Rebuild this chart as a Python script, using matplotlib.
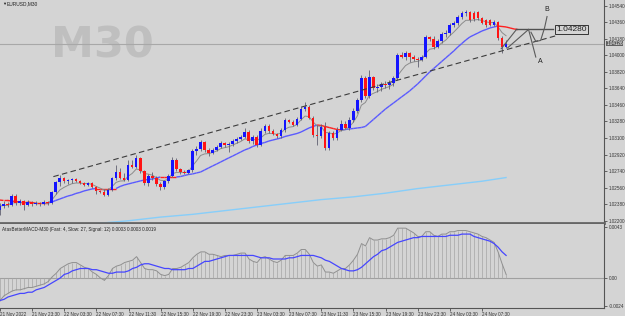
import numpy as np
import pandas as pd
from matplotlib import pyplot as plt

plt.rcParams['font.family'] = ['Liberation Sans', 'DejaVu Sans']

# EURUSD M30, 21 Nov 19:30 .. 24 Nov 11:30 (one entry per bar)
opens = [1.0232, 1.0236, 1.0238, 1.0237, 1.0247, 1.0239, 1.0242, 1.0237, 1.0240, 1.0238,
         1.0239, 1.0238, 1.0240, 1.0239, 1.0251, 1.0262, 1.0267, 1.0263, 1.0264, 1.0265,
         1.0263, 1.0261, 1.0259, 1.0261, 1.0257, 1.0252, 1.0251, 1.0248, 1.0253, 1.0267,
         1.0273, 1.0267, 1.0264, 1.0281, 1.0279, 1.0288, 1.0274, 1.0261, 1.0269, 1.0267,
         1.0260, 1.0257, 1.0263, 1.0269, 1.0286, 1.0276, 1.0273, 1.0272, 1.0275, 1.0296,
         1.0298, 1.0306, 1.0297, 1.0294, 1.0297, 1.0300, 1.0305, 1.0302, 1.0303, 1.0307,
         1.0309, 1.0311, 1.0316, 1.0307, 1.0311, 1.0302, 1.0318, 1.0323, 1.0318, 1.0314,
         1.0312, 1.0319, 1.0330, 1.0327, 1.0324, 1.0331, 1.0342, 1.0344, 1.0332, 1.0313,
         1.0312, 1.0322, 1.0299, 1.0315, 1.0310, 1.0319, 1.0325, 1.0321, 1.0330, 1.0339,
         1.0351, 1.0375, 1.0356, 1.0376, 1.0364, 1.0365, 1.0369, 1.0368, 1.0370, 1.0375,
         1.0400, 1.0398, 1.0402, 1.0398, 1.0396, 1.0395, 1.0398, 1.0420, 1.0418, 1.0409,
         1.0415, 1.0423, 1.0424, 1.0433, 1.0435, 1.0441, 1.0446, 1.0447, 1.0446, 1.0447,
         1.0440, 1.0438, 1.0438, 1.0433, 1.0436, 1.0419, 1.0409]
closes = [1.0236, 1.0238, 1.0237, 1.0247, 1.0239, 1.0242, 1.0237, 1.0240, 1.0238, 1.0239,
          1.0238, 1.0240, 1.0239, 1.0251, 1.0262, 1.0267, 1.0263, 1.0264, 1.0265, 1.0263,
          1.0261, 1.0259, 1.0261, 1.0257, 1.0252, 1.0251, 1.0248, 1.0253, 1.0267, 1.0273,
          1.0267, 1.0264, 1.0281, 1.0279, 1.0288, 1.0274, 1.0261, 1.0269, 1.0267, 1.0260,
          1.0257, 1.0263, 1.0269, 1.0286, 1.0276, 1.0273, 1.0272, 1.0275, 1.0296, 1.0298,
          1.0306, 1.0297, 1.0294, 1.0297, 1.0300, 1.0305, 1.0302, 1.0303, 1.0307, 1.0309,
          1.0311, 1.0316, 1.0307, 1.0311, 1.0302, 1.0318, 1.0323, 1.0318, 1.0314, 1.0312,
          1.0319, 1.0330, 1.0327, 1.0324, 1.0331, 1.0342, 1.0344, 1.0332, 1.0313, 1.0312,
          1.0322, 1.0299, 1.0315, 1.0310, 1.0319, 1.0325, 1.0321, 1.0330, 1.0339, 1.0351,
          1.0375, 1.0356, 1.0376, 1.0364, 1.0365, 1.0369, 1.0368, 1.0370, 1.0375, 1.0400,
          1.0398, 1.0402, 1.0398, 1.0396, 1.0395, 1.0398, 1.0420, 1.0418, 1.0409, 1.0415,
          1.0423, 1.0424, 1.0433, 1.0435, 1.0441, 1.0446, 1.0447, 1.0438, 1.0439, 1.0440,
          1.0435, 1.0433, 1.0433, 1.0436, 1.0419, 1.0409, 1.04126]
highs = [1.0239, 1.0242, 1.0240, 1.0249, 1.0249, 1.0244, 1.0243, 1.0243, 1.0242, 1.0242,
         1.0240, 1.0243, 1.0242, 1.0252, 1.0263, 1.0270, 1.0268, 1.0265, 1.0267, 1.0267,
         1.0264, 1.0262, 1.0262, 1.0262, 1.0258, 1.0253, 1.0255, 1.0256, 1.0268, 1.0281,
         1.0277, 1.0272, 1.0286, 1.0286, 1.0292, 1.0289, 1.0275, 1.0271, 1.0273, 1.0269,
         1.0262, 1.0264, 1.0271, 1.0289, 1.0288, 1.0277, 1.0275, 1.0276, 1.0298, 1.0301,
         1.0308, 1.0307, 1.0299, 1.0299, 1.0302, 1.0307, 1.0306, 1.0306, 1.0309, 1.0311,
         1.0313, 1.0321, 1.0319, 1.0313, 1.0313, 1.0321, 1.0325, 1.0325, 1.0320, 1.0315,
         1.0321, 1.0332, 1.0331, 1.0330, 1.0333, 1.0345, 1.0349, 1.0346, 1.0334, 1.0324,
         1.0325, 1.0327, 1.0318, 1.0318, 1.0322, 1.0330, 1.0328, 1.0333, 1.0343, 1.0353,
         1.0378, 1.0377, 1.0384, 1.0377, 1.0369, 1.0371, 1.0372, 1.0373, 1.0377, 1.0402,
         1.0403, 1.0405, 1.0403, 1.0400, 1.0398, 1.0400, 1.0422, 1.0421, 1.0421, 1.0418,
         1.0425, 1.0427, 1.0435, 1.0437, 1.0444, 1.0448, 1.0449, 1.0448, 1.0448, 1.0448,
         1.0441, 1.0439, 1.0439, 1.0438, 1.0437, 1.0421, 1.0417]
lows = [1.0226, 1.0234, 1.0235, 1.0236, 1.0237, 1.0237, 1.0232, 1.0236, 1.0236, 1.0237,
        1.0236, 1.0237, 1.0237, 1.0238, 1.0249, 1.0258, 1.0261, 1.0260, 1.0261, 1.0262,
        1.0260, 1.0258, 1.0258, 1.0256, 1.0249, 1.0250, 1.0247, 1.0247, 1.0252, 1.0264,
        1.0265, 1.0263, 1.0263, 1.0277, 1.0277, 1.0272, 1.0259, 1.0258, 1.0264, 1.0258,
        1.0253, 1.0255, 1.0261, 1.0268, 1.0274, 1.0271, 1.0271, 1.0271, 1.0273, 1.0292,
        1.0296, 1.0295, 1.0290, 1.0293, 1.0296, 1.0299, 1.0300, 1.0295, 1.0301, 1.0305,
        1.0308, 1.0310, 1.0305, 1.0303, 1.0300, 1.0301, 1.0315, 1.0315, 1.0313, 1.0310,
        1.0310, 1.0316, 1.0326, 1.0323, 1.0323, 1.0330, 1.0339, 1.0331, 1.0311, 1.0302,
        1.0310, 1.0297, 1.0297, 1.0308, 1.0308, 1.0318, 1.0320, 1.0319, 1.0327, 1.0337,
        1.0349, 1.0353, 1.0353, 1.0362, 1.0360, 1.0361, 1.0364, 1.0363, 1.0367, 1.0373,
        1.0397, 1.0395, 1.0393, 1.0394, 1.0387, 1.0394, 1.0397, 1.0415, 1.0407, 1.0408,
        1.0413, 1.0420, 1.0422, 1.0431, 1.0433, 1.0439, 1.0443, 1.0436, 1.0437, 1.0438,
        1.0434, 1.0431, 1.0432, 1.0432, 1.0417, 1.0402, 1.0408]

# coloured moving average (drawn 3 bars past the last candle)
ma_slow = [1.02426, 1.02421, 1.02421, 1.02415, 1.02410, 1.02404, 1.02404, 1.02404, 1.02399, 1.02393,
           1.02393, 1.02393, 1.02393, 1.02404, 1.02421, 1.02437, 1.02453, 1.02469, 1.02480, 1.02497,
           1.02508, 1.02524, 1.02535, 1.02546, 1.02551, 1.02551, 1.02551, 1.02551, 1.02551, 1.02551,
           1.02573, 1.02589, 1.02600, 1.02611, 1.02622, 1.02633, 1.02643, 1.02649, 1.02654, 1.02665,
           1.02676, 1.02676, 1.02676, 1.02676, 1.02676, 1.02681, 1.02692, 1.02703, 1.02709, 1.02720,
           1.02730, 1.02752, 1.02774, 1.02796, 1.02817, 1.02839, 1.02861, 1.02883, 1.02904, 1.02926,
           1.02948, 1.02970, 1.02986, 1.03008, 1.03024, 1.03040, 1.03051, 1.03067, 1.03078, 1.03089,
           1.03100, 1.03116, 1.03127, 1.03138, 1.03149, 1.03165, 1.03187, 1.03209, 1.03225, 1.03241,
           1.03236, 1.03225, 1.03214, 1.03203, 1.03192, 1.03187, 1.03192, 1.03198, 1.03203, 1.03209,
           1.03214, 1.03225, 1.03263, 1.03301, 1.03339, 1.03377, 1.03415, 1.03448, 1.03480, 1.03513,
           1.03546, 1.03578, 1.03611, 1.03649, 1.03687, 1.03730, 1.03774, 1.03817, 1.03855, 1.03893,
           1.03932, 1.03970, 1.04008, 1.04046, 1.04089, 1.04127, 1.04165, 1.04198, 1.04220, 1.04241,
           1.04263, 1.04279, 1.04296, 1.04307, 1.04317, 1.04312, 1.04307, 1.04296, 1.04285, 1.04279]

# long moving average, read every 8 bars
ma_long_bar = [24, 32, 40, 48, 56, 64, 72, 80, 88, 96, 104, 112, 120, 126]
ma_long = [1.0217, 1.0220, 1.0224, 1.0227, 1.0231, 1.0235, 1.0239, 1.0243, 1.0246, 1.0250,
           1.0255, 1.0259, 1.0263, 1.0267]

macd_main = [-0.0019, -0.0015, -0.0013, -0.0011, -0.0010, -0.0010, -0.0009, -0.0008, -0.0008, -0.0007,
             -0.0006, -0.0005, -0.0003, 0.0001, 0.0004, 0.0008, 0.0010, 0.0012, 0.0013, 0.0013,
             0.0011, 0.0009, 0.0008, 0.0005, 0.0003, 0.0000, -0.0002, 0.0002, 0.0008, 0.0010,
             0.0011, 0.0013, 0.0014, 0.0015, 0.0018, 0.0013, 0.0008, 0.0007, 0.0007, 0.0006,
             0.0003, 0.0002, 0.0003, 0.0008, 0.0008, 0.0009, 0.0011, 0.0013, 0.0017, 0.0020,
             0.0022, 0.0022, 0.0020, 0.0020, 0.0019, 0.0018, 0.0019, 0.0019, 0.0019, 0.0020,
             0.0021, 0.0021, 0.0016, 0.0014, 0.0013, 0.0017, 0.0018, 0.0016, 0.0014, 0.0013,
             0.0015, 0.0019, 0.0019, 0.0019, 0.0021, 0.0024, 0.0024, 0.0020, 0.0013, 0.0010,
             0.0011, 0.0005, 0.0005, 0.0004, 0.0006, 0.0008, 0.0008, 0.0011, 0.0015, 0.0020,
             0.0029, 0.0027, 0.0034, 0.0032, 0.0032, 0.0033, 0.0033, 0.0034, 0.0036, 0.0042,
             0.0042, 0.0042, 0.0040, 0.0038, 0.0035, 0.0035, 0.0039, 0.0039, 0.0036, 0.0035,
             0.0037, 0.0037, 0.0039, 0.0039, 0.0040, 0.0040, 0.0040, 0.0039, 0.0038, 0.0037,
             0.0035, 0.0034, 0.0032, 0.0030, 0.0022, 0.0012, 0.0003]
macd_signal = [-0.0019, -0.0018, -0.0016, -0.0015, -0.0014, -0.0013, -0.0013, -0.0012, -0.0012, -0.0010,
               -0.0009, -0.0008, -0.0006, -0.0004, -0.0002, 0.0000, 0.0003, 0.0004, 0.0006, 0.0007,
               0.0008, 0.0008, 0.0008, 0.0007, 0.0007, 0.0006, 0.0005, 0.0004, 0.0004, 0.0005,
               0.0005, 0.0005, 0.0006, 0.0008, 0.0009, 0.0011, 0.0012, 0.0012, 0.0011, 0.0010,
               0.0009, 0.0008, 0.0008, 0.0007, 0.0007, 0.0007, 0.0007, 0.0008, 0.0008, 0.0010,
               0.0012, 0.0014, 0.0014, 0.0015, 0.0016, 0.0017, 0.0018, 0.0019, 0.0019, 0.0019,
               0.0019, 0.0019, 0.0019, 0.0019, 0.0018, 0.0017, 0.0017, 0.0017, 0.0016, 0.0016,
               0.0016, 0.0016, 0.0017, 0.0017, 0.0018, 0.0019, 0.0019, 0.0019, 0.0019, 0.0018,
               0.0017, 0.0015, 0.0014, 0.0012, 0.0010, 0.0008, 0.0007, 0.0006, 0.0006, 0.0007,
               0.0009, 0.0012, 0.0015, 0.0018, 0.0020, 0.0023, 0.0024, 0.0026, 0.0028, 0.0030,
               0.0031, 0.0032, 0.0033, 0.0034, 0.0034, 0.0035, 0.0035, 0.0035, 0.0035, 0.0035,
               0.0035, 0.0035, 0.0036, 0.0036, 0.0036, 0.0037, 0.0037, 0.0037, 0.0035, 0.0034,
               0.0033, 0.0032, 0.0031, 0.0029, 0.0026, 0.0022, 0.0019]

price_ticks = [1.04540, 1.04360, 1.04180, 1.04000, 1.03820, 1.03640, 1.03460, 1.03280,
               1.03100, 1.02920, 1.02740, 1.02560, 1.02380, 1.02200]
time_ticks = [0, 8, 16, 24, 32, 40, 48, 56, 64, 72, 80, 88, 96, 104, 112, 120]
time_labels = ['21 Nov 2022', '21 Nov 23:30', '22 Nov 03:30', '22 Nov 07:30', '22 Nov 11:30',
               '22 Nov 15:30', '22 Nov 19:30', '22 Nov 23:30', '23 Nov 03:30', '23 Nov 07:30',
               '23 Nov 11:30', '23 Nov 15:30', '23 Nov 19:30', '23 Nov 23:30', '24 Nov 03:30',
               '24 Nov 07:30']

# trend line and the hand drawn projection
trend_bar = [13.4, 138.3]
trend_price = [1.0268, 1.0421]
target_price = 1.04280

BG = '#d4d4d4'
BLUE = '#1414ff'
RED = '#ff1414'
FS = 3.3

o, h, l, c = map(np.array, (opens, highs, lows, closes))
n = len(c)
bars = np.arange(n)

fig = plt.figure(figsize=(6.25, 3.16), dpi=100, facecolor=BG)
ax = fig.add_axes([0, 93 / 316, 604 / 625, 223 / 316], facecolor=BG)
ax2 = fig.add_axes([0, 8 / 316, 604 / 625, 84 / 316], facecolor=BG)
xlim = (0.124, 150.37)

# watermark
ax.text(0.085, 0.795, 'M30', transform=ax.transAxes, fontsize=31, fontweight='bold',
        family='DejaVu Sans', color='#bfbfbf', ha='left', va='center', zorder=0)

# current price line
ax.axhline(c[-1], color='#a8a8a8', lw=0.8, zorder=1)

# long MA
ax.plot(ma_long_bar, ma_long, color='#87cefa', lw=1.0, zorder=2)

# coloured MA
ms = np.array(ma_slow)
mx = np.arange(len(ms))
for i in range(len(ms) - 1):
    col = '#5a5aff' if ms[i + 1] > ms[i] else '#ff2020'
    ax.plot(mx[i:i + 2], ms[i:i + 2], color=col, lw=1.0, zorder=3, solid_capstyle='butt')

# fast grey MA
fast = pd.Series(c).ewm(span=6, adjust=False).mean()
ax.plot(bars, fast, color='#8c8c8c', lw=0.7, zorder=3)

# candles
up = c >= o
ax.vlines(bars, l, h, color='#606070', lw=0.6, zorder=4)
ax.bar(bars[up], (c - o)[up], bottom=o[up], width=0.65, color=BLUE, zorder=5)
ax.bar(bars[~up], (o - c)[~up], bottom=c[~up], width=0.65, color=RED, zorder=5)

# trend line
ax.plot(trend_bar, trend_price, color='#3c3c3c', lw=0.8, dashes=(5, 3), zorder=6)

# projection drawing
g = '#5a5a5a'
ax.plot([124.8, 128.6], [1.0407, target_price], color=g, lw=0.8, zorder=6)
ax.plot([126.4, 131.6], [1.0408, target_price], color=g, lw=0.8, zorder=6)
ax.plot([128.6, 137.8], [target_price, target_price], color='#505050', lw=1.0, zorder=6)
ax.plot([131.6, 133.4], [target_price, 1.0398], color=g, lw=0.8, zorder=6)
ax.plot([132.2, 133.4, 134.6, 135.6, 136.2], [1.0425, 1.0415, 1.0416, 1.0430, 1.0442],
        color=g, lw=0.8, zorder=6)
ax.text(134.6, 1.03930, 'A', fontsize=5, color='#222222', ha='center', va='center')
ax.text(136.2, 1.04500, 'B', fontsize=5, color='#222222', ha='center', va='center')
ax.text(138.4, target_price, f'{target_price:.5f}', fontsize=6, color='#222222',
        ha='left', va='center', zorder=7,
        bbox=dict(boxstyle='square,pad=0.15', fc=BG, ec='#333333', lw=0.7))

ax.set_xlim(*xlim)
ax.set_ylim(1.02176, 1.04600)
ax.yaxis.tick_right()
ax.set_yticks(price_ticks)
ax.set_yticklabels([f'{p:.5f}' for p in price_ticks])
ax.tick_params(axis='y', labelsize=FS, length=2, width=0.5, pad=1.2, colors='#333333')
ax.set_xticks([])
for s in ('top', 'left'):
    ax.spines[s].set_visible(False)
ax.spines['right'].set_color('#555555')
ax.spines['right'].set_linewidth(0.8)
ax.spines['bottom'].set_color('#666666')
ax.spines['bottom'].set_linewidth(2.0)

# current price box
ax.text(1.004, c[-1], f'{c[-1]:.5f}', transform=ax.get_yaxis_transform(), fontsize=FS,
        color='white', ha='left', va='center', zorder=8, clip_on=False,
        bbox=dict(boxstyle='square,pad=0.08', fc='#606060', ec='none'))

fig.text(2 / 625, 1 - 4 / 316, '\u25bc', fontsize=3, color='#222222', va='center')
fig.text(7 / 625, 1 - 4 / 316, 'EURUSD,M30', fontsize=3.5, color='#222222', va='center')

# MACD window
m = np.array(macd_main)
ax2.vlines(bars, 0, m, color='#a6a6a6', lw=0.5, zorder=2)
ax2.axhline(0, color='#a0a0a0', lw=0.8, zorder=1)
ax2.plot(bars, m, color='#909090', lw=0.7, zorder=3)
ax2.plot(bars, macd_signal, color='#4646ff', lw=0.9, zorder=4)
ax2.set_xlim(*xlim)
ax2.set_ylim(-0.00253, 0.00455)
ax2.yaxis.tick_right()
ax2.set_yticks([0.0043, 0.0, -0.0024])
ax2.set_yticklabels(['0.0043', '0.00', '-0.0024'])
ax2.tick_params(axis='y', labelsize=FS, length=2, width=0.5, pad=1.2, colors='#333333')
ax2.set_xticks(time_ticks)
ax2.set_xticklabels(time_labels, ha='left')
ax2.tick_params(axis='x', labelsize=FS, length=2, width=0.5, pad=0.8, colors='#333333')
for s in ('top', 'left'):
    ax2.spines[s].set_visible(False)
for s in ('right', 'bottom'):
    ax2.spines[s].set_color('#555555')
    ax2.spines[s].set_linewidth(0.8)
ax2.text(0.004, 0.93, 'AtasBetterMACD-M30 (Fast: 4, Slow: 27, Signal: 12) 0.0003 0.0003 0.0019',
         transform=ax2.transAxes, fontsize=FS, color='#222222', ha='left', va='center')

fig.savefig('out.png', dpi=100, facecolor=BG)
